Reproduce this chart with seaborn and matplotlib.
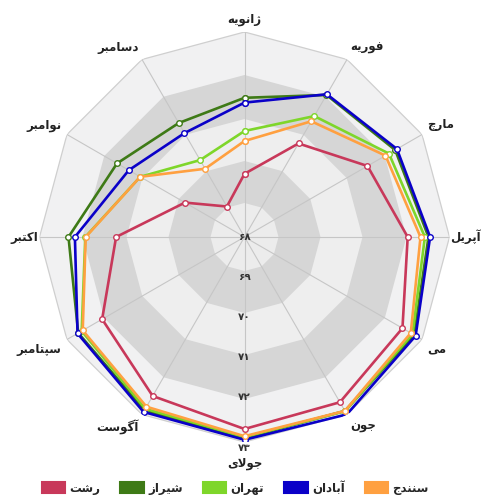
import numpy as np
import pandas as pd
import matplotlib
matplotlib.use("Agg")
import matplotlib.pyplot as plt
from matplotlib.patches import Patch
import seaborn as sns

# data
months = ["ژانویه", "فوریه", "مارچ", "آپریل", "می", "جون", "جولای",
          "آگوست", "سپتامبر", "اکتبر", "نوامبر", "دسامبر"]
cities = ["رشت", "شیراز", "تهران", "آبادان", "سنندج"]
rasht = [69.58, 70.70, 71.55, 72.08, 72.56, 72.77, 72.80, 72.59, 72.11, 71.21, 69.72, 68.88]
shiraz = [71.48, 72.10, 72.35, 72.60, 72.90, 73.02, 73.03, 73.00, 72.80, 72.40, 71.68, 71.29]
tehran = [70.65, 71.49, 72.17, 72.51, 72.85, 73.03, 73.00, 72.96, 72.70, 71.98, 71.01, 70.22]
abadan = [71.36, 72.12, 72.40, 72.64, 72.94, 73.12, 73.07, 73.05, 72.82, 72.24, 71.34, 71.00]
sanandaj = [70.40, 71.34, 72.07, 72.40, 72.80, 73.02, 72.98, 72.90, 72.67, 71.97, 71.01, 69.97]
colors = ["#c8385a", "#3e7a16", "#7ed62a", "#0a00c8", "#ffa040"]
r_ticks = [68, 69, 70, 71, 72, 73]
r_tick_labels = ["۶۸", "۶۹", "۷۰", "۷۱", "۷۲", "۷۳"]

R_MIN, R_MAX = 68, 73.125

# minimal persian shaping (matplotlib does no joining / bidi by itself)
FORMS = {
    'ا': ('\u0627', '\uFE8E', None, None),
    'آ': ('\u0622', '\uFE82', None, None),
    'ب': ('\u0628', '\uFE90', '\uFE91', '\uFE92'),
    'پ': ('\u067E', '\uFB57', '\uFB58', '\uFB59'),
    'ت': ('\u062A', '\uFE96', '\uFE97', '\uFE98'),
    'ج': ('\u062C', '\uFE9E', '\uFE9F', '\uFEA0'),
    'چ': ('\u0686', '\uFB7B', '\uFB7C', '\uFB7D'),
    'د': ('\u062F', '\uFEAA', None, None),
    'ر': ('\u0631', '\uFEAE', None, None),
    'ز': ('\u0632', '\uFEB0', None, None),
    'ژ': ('\u0698', '\uFB8B', None, None),
    'س': ('\u0633', '\uFEB2', '\uFEB3', '\uFEB4'),
    'ش': ('\u0634', '\uFEB6', '\uFEB7', '\uFEB8'),
    'ف': ('\u0641', '\uFED2', '\uFED3', '\uFED4'),
    'ک': ('\u06A9', '\uFB8F', '\uFB90', '\uFB91'),
    'گ': ('\u06AF', '\uFB93', '\uFB94', '\uFB95'),
    'ل': ('\u0644', '\uFEDE', '\uFEDF', '\uFEE0'),
    'م': ('\u0645', '\uFEE2', '\uFEE3', '\uFEE4'),
    'ن': ('\u0646', '\uFEE6', '\uFEE7', '\uFEE8'),
    'و': ('\u0648', '\uFEEE', None, None),
    'ه': ('\u0647', '\uFEEA', '\uFEEB', '\uFEEC'),
    'ی': ('\u06CC', '\uFBFD', '\uFBFE', '\uFBFF'),
}
LAM_ALEF = {'ا': ('\uFEFB', '\uFEFC'), 'آ': ('\uFEF5', '\uFEF6')}


def joins_next(c):
    return c in FORMS and FORMS[c][2] is not None


def shape(text):
    out = []
    skip = False
    n = len(text)
    for i, c in enumerate(text):
        if skip:
            skip = False
            continue
        if c not in FORMS:
            out.append(c)
            continue
        jp = i > 0 and joins_next(text[i - 1])
        if c == 'ل' and i + 1 < n and text[i + 1] in LAM_ALEF:
            iso, fin = LAM_ALEF[text[i + 1]]
            out.append(fin if jp else iso)
            skip = True
            continue
        jn = joins_next(c) and i + 1 < n and text[i + 1] in FORMS
        iso, fin, ini, med = FORMS[c]
        out.append(med if (jp and jn) else fin if jp else ini if jn else iso)
    return "".join(reversed(out))


sns.set_style("white")
plt.rcParams["font.family"] = ["DejaVu Sans"]

theta = np.linspace(0, 2 * np.pi, len(months) + 1)
series = [rasht, shiraz, tehran, abadan, sanandaj]
rows = []
for city, vals in zip(cities, series):
    closed = list(vals) + [vals[0]]
    for t, v in zip(theta, closed):
        rows.append({"theta": t, "value": v, "city": city})
df = pd.DataFrame(rows)

fig = plt.figure(figsize=(4.86, 5.04), dpi=100)
w, h = 410 / 486, 410 / 504
cx, cy = 244.5 / 486, 1 - 237 / 504
ax = fig.add_axes([cx - w / 2, cy - h / 2, w, h], projection="polar")
ax.set_theta_zero_location("N")
ax.set_theta_direction(-1)
ax.grid(False)
ax.spines["polar"].set_visible(False)
ax.patch.set_visible(False)

# polygon bands
bands = [(R_MAX, "#f1f1f2"), (72.05, "#d6d6d6"), (70.95, "#eeeeee"),
         (69.9, "#d6d6d6"), (68.85, "#ececec")]
for edge, col in bands:
    ax.fill(theta, [edge] * len(theta), color=col, lw=0, zorder=0)
ax.plot(theta, [R_MAX] * len(theta), color="#cfcfcf", lw=0.9, zorder=1)
for t in theta[:-1]:
    ax.plot([t, t], [R_MIN, R_MAX], color="#c6c6c6", lw=0.8, zorder=1)

sns.lineplot(data=df, x="theta", y="value", hue="city", hue_order=cities,
             palette=dict(zip(cities, colors)), sort=False, estimator=None,
             marker="o", markersize=4, linewidth=1.9, legend=False, ax=ax, zorder=3)
for line in ax.get_lines()[-len(cities):]:
    line.set_markeredgecolor(line.get_color())
    line.set_markerfacecolor("white")
    line.set_markeredgewidth(1.0)

ax.set_ylim(R_MIN, R_MAX)
ax.set_xticks([])
ax.set_yticks([])
ax.set_xlabel("")
ax.set_ylabel("")

# month labels
px = (R_MAX - R_MIN) / 205
for t, m in zip(theta[:-1], months):
    s, c = np.sin(t), np.cos(t)
    ha = "left" if s > 0.1 else "right" if s < -0.1 else "center"
    va = "bottom" if c > 0.1 else "top" if c < -0.1 else "center"
    dist = 220 if c < -0.9 else 206 if abs(c) < 0.1 else 211
    ax.text(t, R_MIN + dist * px, shape(m), ha=ha, va=va, fontsize=8.5,
            fontweight="bold", color="#222222", clip_on=False)

# radial labels along the bottom spoke
for v, lab in zip(r_ticks, r_tick_labels):
    off = 0.27 if v == r_ticks[-1] else 0
    ax.text(np.pi, v + off, lab, ha="center", va="center", fontsize=7.5,
            fontweight="bold", color="#333333", zorder=5, clip_on=False)

handles = [Patch(facecolor=c, edgecolor=c, linewidth=1.5, joinstyle="round",
                 label=shape(city)) for city, c in zip(cities, colors)]
fig.legend(handles=handles, loc="center", bbox_to_anchor=(0.484, 0.032), ncol=5,
           frameon=False, handlelength=2.0, handleheight=1.1, handletextpad=0.35,
           columnspacing=1.7, prop={"weight": "bold", "size": 8.5})

fig.savefig("out.png", dpi=100)
